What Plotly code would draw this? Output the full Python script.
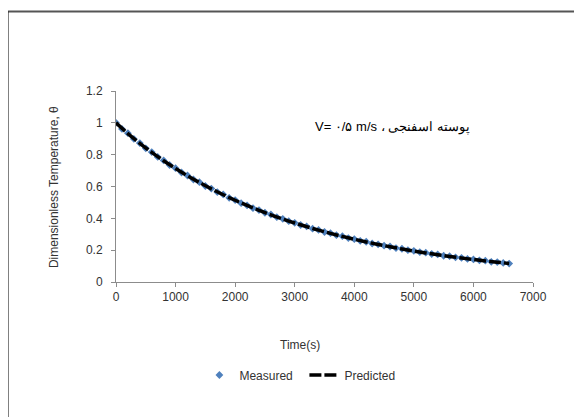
import plotly.graph_objects as go

# Measured data (time in s, dimensionless temperature)
measured_time = list(range(0, 6700, 100))
measured_theta = [
    1.000, 0.962, 0.935, 0.899, 0.873, 0.840, 0.816, 0.786, 0.764, 0.735,
    0.715, 0.688, 0.669, 0.644, 0.627, 0.603, 0.587, 0.565, 0.550, 0.529,
    0.515, 0.495, 0.482, 0.464, 0.452, 0.435, 0.424, 0.407, 0.397, 0.382,
    0.372, 0.358, 0.349, 0.335, 0.327, 0.314, 0.307, 0.294, 0.288, 0.276,
    0.270, 0.259, 0.253, 0.242, 0.237, 0.228, 0.223, 0.213, 0.209, 0.200,
    0.196, 0.188, 0.184, 0.176, 0.173, 0.165, 0.162, 0.155, 0.152, 0.145,
    0.142, 0.136, 0.134, 0.127, 0.125, 0.120, 0.116,
]

# Predicted model curve
predicted_time = list(range(0, 6800, 200))
predicted_theta = [
    1.000, 0.9326, 0.8714, 0.8148, 0.7622, 0.7133, 0.6676, 0.6251, 0.5853,
    0.5482, 0.5135, 0.4810, 0.4507, 0.4223, 0.3958, 0.3709, 0.3476, 0.3259,
    0.3055, 0.2864, 0.2686, 0.2518, 0.2361, 0.2214, 0.2076, 0.1947, 0.1827,
    0.1713, 0.1607, 0.1507, 0.1414, 0.1326, 0.1244, 0.1168,
]

x_ticks = [0, 1000, 2000, 3000, 4000, 5000, 6000, 7000]
y_ticks = [0, 0.2, 0.4, 0.6, 0.8, 1, 1.2]
y_tick_text = ["0", "0.2", "0.4", "0.6", "0.8", "1", "1.2"]

annotation_text = "V= ۰/۵ m/s ، پوسته اسفنجی"
x_title = "Time(s)"
y_title = "Dimensionless Temperature, θ"

FONT = "Liberation Sans, Arial, sans-serif"
TXT = "#333333"
AX = "#8c8c8c"

fig = go.Figure()
fig.add_trace(go.Scatter(
    x=measured_time, y=measured_theta, mode="markers", name="Measured",
    marker=dict(symbol="diamond", size=6, color="#4F81BD"),
))
fig.add_trace(go.Scatter(
    x=predicted_time, y=predicted_theta, mode="lines", name="Predicted",
    line=dict(color="black", width=3.5, dash="12px,3px", shape="spline"),
))

fig.update_layout(
    width=582, height=417,
    margin=dict(l=108, r=57, t=83, b=143),
    paper_bgcolor="white", plot_bgcolor="white",
    font=dict(family=FONT, size=12, color=TXT),
    showlegend=True,
    legend=dict(orientation="h", x=0.20, y=-0.487, xanchor="left", yanchor="middle",
                entrywidth=60, entrywidthmode="pixels",
                font=dict(size=12, color=TXT), bgcolor="rgba(0,0,0,0)"),
    xaxis=dict(range=[0, 7000], tickvals=x_ticks, showgrid=False, zeroline=False,
               showline=True, linecolor=AX, linewidth=1, ticks="outside",
               tickcolor=AX, ticklen=4, tickfont=dict(size=12, color=TXT)),
    yaxis=dict(range=[0, 1.2], tickvals=y_ticks, ticktext=y_tick_text, showgrid=False,
               zeroline=False, showline=True, linecolor=AX, linewidth=1, ticks="outside",
               tickcolor=AX, ticklen=4, tickfont=dict(size=12, color=TXT),
               ticklabelstandoff=6),
)

fig.add_annotation(text=annotation_text, xref="paper", yref="paper",
                   x=0.4724, y=0.8115, xanchor="left", yanchor="middle",
                   showarrow=False, font=dict(size=13, color="black"))
fig.add_annotation(text=x_title, xref="paper", yref="paper",
                   x=0.4412, y=-0.3298, xanchor="center", yanchor="middle",
                   showarrow=False, font=dict(size=12, color=TXT))
fig.add_annotation(text=y_title, xref="paper", yref="paper",
                   x=-0.1487, y=0.497, xanchor="center", yanchor="middle",
                   textangle=-90, showarrow=False, font=dict(size=12, color=TXT))

# figure frame (top and left edges)
fig.add_shape(type="line", xref="paper", yref="paper",
              x0=-0.2614, x1=1.2, y0=1.4162, y1=1.4162,
              line=dict(color="#555555", width=2))
fig.add_shape(type="line", xref="paper", yref="paper",
              x0=-0.2614, x1=-0.2614, y0=1.4162, y1=-0.72,
              line=dict(color="black", width=3))

fig.write_html("out.html")
